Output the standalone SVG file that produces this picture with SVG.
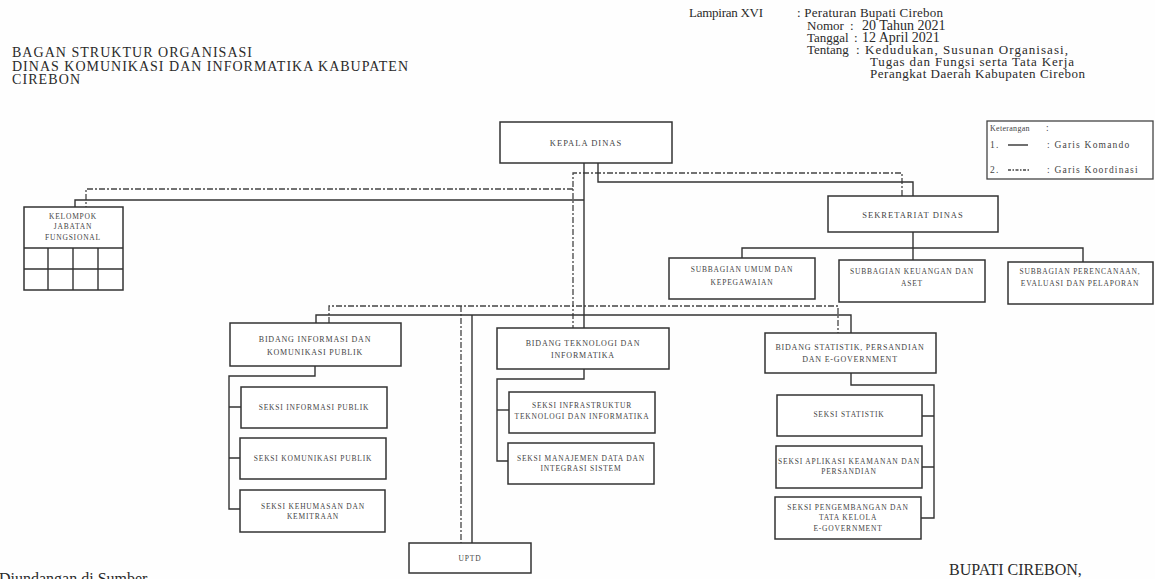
<svg xmlns="http://www.w3.org/2000/svg" width="1155" height="579" viewBox="0 0 1155 579">
<style>
.box{fill:#fff;stroke:#333;stroke-width:1.5}
.cmd{fill:none;stroke:#333;stroke-width:1.4}
.crd{fill:none;stroke:#444;stroke-width:1.3;stroke-dasharray:6 2 2 2}
.t{font-family:"Liberation Serif","Times New Roman",serif;font-size:7.5px;letter-spacing:0.8px;fill:#444;text-anchor:middle}
.tb{font-family:"Liberation Serif","Times New Roman",serif;font-size:8px;letter-spacing:0.8px;fill:#444;text-anchor:middle}
.tk{font-family:"Liberation Serif","Times New Roman",serif;font-size:8.5px;letter-spacing:1px;fill:#444;text-anchor:middle}
.h{font-family:"Liberation Serif","Times New Roman",serif;font-size:14px;fill:#2a2a2a}
.hr{font-family:"Liberation Serif","Times New Roman",serif;font-size:13px;fill:#2a2a2a}
.hv{font-family:"Liberation Serif","Times New Roman",serif;font-size:14px;fill:#2a2a2a}
.lg{font-family:"Liberation Serif","Times New Roman",serif;font-size:9.5px;letter-spacing:1.2px;fill:#444}
.ft{font-family:"Liberation Serif","Times New Roman",serif;font-size:16px;fill:#2a2a2a}
</style>
<rect x="0" y="0" width="1155" height="579" fill="#fefefe"/>

<g id="header-left">
<text class="h" x="12" y="57" textLength="240" lengthAdjust="spacing">BAGAN STRUKTUR ORGANISASI</text>
<text class="h" x="12" y="70.5" textLength="396" lengthAdjust="spacing">DINAS KOMUNIKASI DAN INFORMATIKA KABUPATEN</text>
<text class="h" x="12" y="84" textLength="68" lengthAdjust="spacing">CIREBON</text>
</g>

<g id="header-right">
<text class="hr" x="689" y="17" textLength="74" lengthAdjust="spacing">Lampiran XVI</text>
<text class="hr" x="797" y="17" textLength="146" lengthAdjust="spacing">: Peraturan Bupati Cirebon</text>
<text class="hr" x="807" y="30">Nomor</text>
<text class="hr" x="850" y="30">:</text>
<text class="hv" x="862" y="30">20 Tahun 2021</text>
<text class="hr" x="807" y="42">Tanggal</text>
<text class="hr" x="854" y="42">:</text>
<text class="hv" x="862" y="42">12 April 2021</text>
<text class="hr" x="807" y="54">Tentang</text>
<text class="hr" x="856" y="54" textLength="212" lengthAdjust="spacing">: Kedudukan, Susunan Organisasi,</text>
<text class="hr" x="870" y="66" textLength="204" lengthAdjust="spacing">Tugas dan Fungsi serta Tata Kerja</text>
<text class="hr" x="870" y="78" textLength="215" lengthAdjust="spacing">Perangkat Daerah Kabupaten Cirebon</text>
</g>

<g id="legend">
<rect x="987" y="121" width="166" height="58" fill="#fff" stroke="#444" stroke-width="1.3"/>
<text class="lg" x="990" y="131" style="font-size:8px;letter-spacing:0.3px">Keterangan</text>
<text class="lg" x="1046" y="131">:</text>
<text class="lg" x="990" y="148">1.</text>
<line x1="1008" y1="145" x2="1028" y2="145" class="cmd"/>
<text class="lg" x="1047" y="148">: Garis Komando</text>
<text class="lg" x="990" y="173">2.</text>
<line x1="1008" y1="170" x2="1030" y2="170" class="crd" style="stroke-dasharray:3 1.5 1.5 1.5"/>
<text class="lg" x="1047" y="173">: Garis Koordinasi</text>
</g>

<g id="connectors">
<path class="crd" d="M902 196 V173 H573 V328"/>
<path class="crd" d="M573 189 H86 V207"/>
<path class="crd" d="M329 323 V306 H838 V333"/>
<path class="crd" d="M461 306 V543"/>
<path class="cmd" d="M584 163 V328"/>
<path class="cmd" d="M598 163 V182 H913 V196"/>
<path class="cmd" d="M584 200 H75 V207"/>
<path class="cmd" d="M316 323 V315 H851 V333"/>
<path class="cmd" d="M472 315 V543"/>
<path class="cmd" d="M913 232 V260"/>
<path class="cmd" d="M742 258 V248 H1083 V262"/>
<path class="cmd" d="M315 366 V376 H229 V509 H240"/>
<path class="cmd" d="M229 407 H241 M229 458 H240"/>
<path class="cmd" d="M584 369 V379 H497 V461 H508"/>
<path class="cmd" d="M497 410 H509"/>
<path class="cmd" d="M851 373 V385 H934 V518 H921"/>
<path class="cmd" d="M934 416 H922 M934 467 H922"/>
</g>

<g id="kepala-dinas">
<rect class="box" x="500" y="122" width="172" height="41"/>
<text class="tk" x="586" y="146">KEPALA DINAS</text>
</g>

<g id="kelompok-jabatan-fungsional">
<rect class="box" x="24" y="207" width="99" height="83"/>
<path class="cmd" d="M24 248 H123 M24 269 H123 M48 248 V290 M73 248 V290 M98 248 V290"/>
<text class="t" x="73" y="219">KELOMPOK</text>
<text class="t" x="73" y="229">JABATAN</text>
<text class="t" x="73" y="240">FUNGSIONAL</text>
</g>

<g id="sekretariat-dinas">
<rect class="box" x="828" y="196" width="170" height="36"/>
<text class="tk" x="913" y="218">SEKRETARIAT DINAS</text>
</g>

<g id="subbagian-umum">
<rect class="box" x="669" y="258" width="146" height="41"/>
<text class="t" x="742" y="272">SUBBAGIAN UMUM DAN</text>
<text class="t" x="742" y="285">KEPEGAWAIAN</text>
</g>

<g id="subbagian-keuangan">
<rect class="box" x="839" y="260" width="146" height="42"/>
<text class="t" x="912" y="274">SUBBAGIAN KEUANGAN DAN</text>
<text class="t" x="912" y="286">ASET</text>
</g>

<g id="subbagian-perencanaan">
<rect class="box" x="1008" y="262" width="145" height="42"/>
<text class="t" x="1080" y="274">SUBBAGIAN PERENCANAAN,</text>
<text class="t" x="1080" y="286">EVALUASI DAN PELAPORAN</text>
</g>

<g id="bidang-informasi">
<rect class="box" x="230" y="323" width="171" height="43"/>
<text class="tb" x="315" y="342">BIDANG INFORMASI DAN</text>
<text class="tb" x="315" y="355">KOMUNIKASI PUBLIK</text>
</g>

<g id="bidang-teknologi">
<rect class="box" x="497" y="328" width="172" height="41"/>
<text class="tb" x="583" y="346">BIDANG TEKNOLOGI DAN</text>
<text class="tb" x="583" y="358">INFORMATIKA</text>
</g>

<g id="bidang-statistik">
<rect class="box" x="765" y="333" width="171" height="40"/>
<text class="tb" x="850" y="350">BIDANG STATISTIK, PERSANDIAN</text>
<text class="tb" x="850" y="362">DAN E-GOVERNMENT</text>
</g>

<g id="seksi-informasi-publik">
<rect class="box" x="241" y="387" width="146" height="41"/>
<text class="t" x="314" y="410">SEKSI INFORMASI PUBLIK</text>
</g>

<g id="seksi-komunikasi-publik">
<rect class="box" x="240" y="438" width="146" height="41"/>
<text class="t" x="313" y="461">SEKSI KOMUNIKASI PUBLIK</text>
</g>

<g id="seksi-kehumasan">
<rect class="box" x="240" y="490" width="145" height="42"/>
<text class="t" x="313" y="509">SEKSI KEHUMASAN DAN</text>
<text class="t" x="313" y="519">KEMITRAAN</text>
</g>

<g id="seksi-infrastruktur">
<rect class="box" x="509" y="392" width="146" height="41"/>
<text class="t" x="582" y="408">SEKSI INFRASTRUKTUR</text>
<text class="t" x="582" y="419">TEKNOLOGI DAN INFORMATIKA</text>
</g>

<g id="seksi-manajemen-data">
<rect class="box" x="508" y="443" width="146" height="41"/>
<text class="t" x="581" y="461">SEKSI MANAJEMEN DATA DAN</text>
<text class="t" x="581" y="471">INTEGRASI SISTEM</text>
</g>

<g id="seksi-statistik">
<rect class="box" x="777" y="395" width="145" height="41"/>
<text class="t" x="849" y="417">SEKSI STATISTIK</text>
</g>

<g id="seksi-aplikasi">
<rect class="box" x="776" y="446" width="146" height="42"/>
<text class="t" x="849" y="464">SEKSI APLIKASI KEAMANAN DAN</text>
<text class="t" x="849" y="474">PERSANDIAN</text>
</g>

<g id="seksi-pengembangan">
<rect class="box" x="775" y="497" width="146" height="42"/>
<text class="t" x="848" y="510">SEKSI PENGEMBANGAN DAN</text>
<text class="t" x="848" y="520">TATA KELOLA</text>
<text class="t" x="848" y="531">E-GOVERNMENT</text>
</g>

<g id="uptd">
<rect class="box" x="409" y="543" width="122" height="30"/>
<text class="t" x="470" y="561">UPTD</text>
</g>

<g id="footer">
<text class="ft" x="-1" y="584">Diundangan di Sumber</text>
<text class="ft" x="949" y="575">BUPATI CIREBON,</text>
</g>
</svg>
